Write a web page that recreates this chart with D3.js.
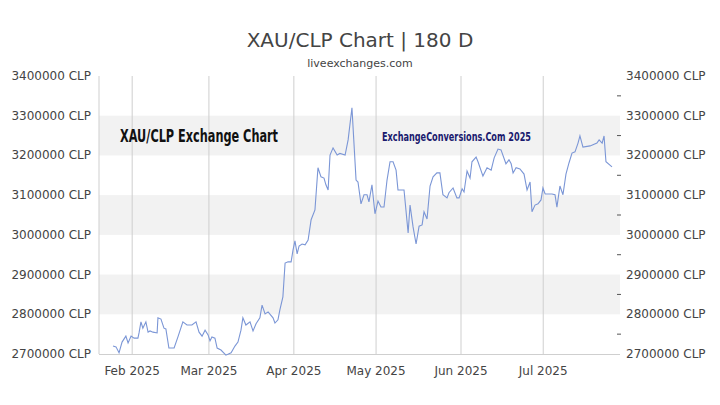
<!DOCTYPE html>
<html><head><meta charset="utf-8">
<script src="https://cdn.jsdelivr.net/npm/d3@7"></script>
<style>body{margin:0;background:#fff}text{font-family:"DejaVu Sans",sans-serif}</style>
</head><body><svg id="chart" width="720" height="405"></svg>
<script>
// days after 2025-01-25, and rate in thousands of CLP
var dayIdx = [0,1.1,2.2,3.3,4.7,5.5,6.6,7.7,9.1,9.5,10.2,10.9,12.0,12.8,13.5,14.6,16.1,16.4,17.5,18.6,19.3,20.4,22.3,23.7,25.5,27.0,28.8,30.3,31.4,32.5,33.6,34.7,35.4,36.1,37.2,38.0,39.4,41.2,43.1,44.5,45.6,46.7,47.4,48.5,50.0,51.1,52.2,53.6,54.4,55.5,56.6,58.4,59.1,60.2,60.9,62.0,62.8,63.9,65.0,65.7,66.4,67.2,67.9,69.0,70.1,71.2,72.3,73.7,74.8,75.9,77.0,77.7,78.5,79.2,80.3,81.8,82.8,84.7,85.8,87.2,88.7,89.4,90.5,91.6,92.7,93.4,94.5,95.6,96.7,97.8,98.9,100.0,101.1,102.2,103.3,104.0,106.2,107.7,108.4,109.5,110.6,111.7,112.8,113.5,114.6,115.7,116.8,118.2,119.3,120.4,121.9,122.6,124.1,125.5,126.3,127.4,128.1,129.2,130.3,131.0,132.5,133.2,135.0,136.5,138.0,139.1,140.5,141.6,143.4,144.5,145.3,146.0,147.1,148.5,150.0,151.1,152.2,152.9,154.0,155.1,156.2,156.9,157.7,159.1,160.2,161.3,162.0,163.1,164.2,165.3,166.4,167.5,168.6,169.7,170.4,171.5,174.1,176.6,177.4,178.5,179.2,179.9,182.1];
var rates = [2720,2718,2703,2730,2745,2728,2745,2740,2740,2753,2781,2765,2781,2755,2758,2755,2753,2791,2788,2765,2763,2715,2715,2743,2781,2773,2773,2781,2755,2745,2760,2748,2733,2743,2740,2715,2710,2697,2703,2720,2730,2760,2791,2773,2781,2758,2776,2791,2823,2801,2806,2791,2778,2786,2811,2844,2929,2932,2932,2962,2985,2952,2972,2977,2975,2987,3038,3063,3169,3146,3143,3126,3113,3201,3219,3201,3205,3201,3239,3320,3138,3133,3078,3101,3101,3083,3126,3053,3085,3070,3070,3138,3184,3184,3163,3113,3113,3005,3075,3020,2977,3022,3025,3058,3040,3123,3146,3156,3156,3101,3093,3106,3118,3093,3093,3116,3108,3161,3143,3184,3196,3184,3148,3169,3163,3194,3216,3214,3179,3189,3179,3156,3169,3166,3153,3113,3133,3058,3075,3078,3088,3118,3103,3103,3103,3101,3070,3123,3101,3153,3181,3206,3209,3231,3249,3221,3224,3231,3239,3231,3249,3184,3171];
var monthLabels = ["Feb 2025","Mar 2025","Apr 2025","May 2025","Jun 2025","Jul 2025"];
var yTicks = [2700000,2800000,2900000,3000000,3100000,3200000,3300000,3400000];

var start = new Date(2025,0,25);
var data = dayIdx.map(function (d, i) {
  return { date: new Date(start.getTime() + d * 864e5), v: rates[i] * 1000 };
});

var svg = d3.select("#chart");
var pLeft = 99, pRight = 620, pTop = 76, pBottom = 354;

var x = d3.scaleTime().domain([start, data[data.length - 1].date]).range([113, 612]);
var y = d3.scaleLinear().domain([2700000, 3400000]).range([pBottom, pTop]);

// alternating bands
[2800000, 3000000, 3200000].forEach(function (b) {
  svg.append("rect").attr("x", pLeft).attr("width", pRight - pLeft)
    .attr("y", y(b + 100000)).attr("height", y(b) - y(b + 100000)).attr("fill", "#f2f2f2");
});

// month gridlines
var months = monthLabels.map(function (m, i) { return new Date(2025, i + 1, 1); });
svg.selectAll(".vg").data(months).enter().append("line")
  .attr("x1", function (d) { return x(d); }).attr("x2", function (d) { return x(d); })
  .attr("y1", pTop).attr("y2", pBottom).attr("stroke", "#cfcfcf");
svg.append("line").attr("x1", pLeft).attr("x2", pLeft).attr("y1", pTop).attr("y2", pBottom).attr("stroke", "#cfcfcf");
svg.append("line").attr("x1", pLeft).attr("x2", pRight).attr("y1", pBottom + 0.5).attr("y2", pBottom + 0.5).attr("stroke", "#cfcfcf");

svg.selectAll(".ml").data(months).enter().append("text")
  .attr("x", function (d) { return x(d); }).attr("y", 375)
  .attr("text-anchor", "middle").attr("font-size", 12).attr("fill", "#444")
  .text(function (d, i) { return monthLabels[i]; });

// y labels both sides
svg.selectAll(".yl").data(yTicks).enter().append("text")
  .attr("x", 91).attr("y", function (d) { return y(d) + 4; })
  .attr("text-anchor", "end").attr("font-size", 12).attr("fill", "#444")
  .text(function (d) { return d + " CLP"; });
svg.selectAll(".yr").data(yTicks).enter().append("text")
  .attr("x", 626).attr("y", function (d) { return y(d) + 4; })
  .attr("font-size", 12).attr("fill", "#444")
  .text(function (d) { return d + " CLP"; });
svg.selectAll(".yt").data(d3.range(2750000, 3400000, 100000)).enter().append("line")
  .attr("x1", 617).attr("x2", 621)
  .attr("y1", function (d) { return y(d); }).attr("y2", function (d) { return y(d); })
  .attr("stroke", "#555");

// watermark texts
svg.append("text").attr("x", 120).attr("y", 142).attr("font-size", 17).attr("font-weight", "bold")
  .attr("textLength", 158).attr("lengthAdjust", "spacingAndGlyphs")
  .attr("fill", "#111").text("XAU/CLP Exchange Chart");
svg.append("text").attr("x", 382).attr("y", 141).attr("font-size", 12.5).attr("font-weight", "bold")
  .attr("textLength", 149).attr("lengthAdjust", "spacingAndGlyphs")
  .attr("fill", "#1a1a6e").text("ExchangeConversions.Com 2025");

// line
svg.append("path").datum(data)
  .attr("d", d3.line().x(function (d) { return x(d.date); }).y(function (d) { return y(d.v); }))
  .attr("fill", "none").attr("stroke", "#7b96d6").attr("stroke-width", 1.1);

// titles
svg.append("text").attr("x", 360).attr("y", 47).attr("text-anchor", "middle")
  .attr("font-size", 20).attr("fill", "#444").text("XAU/CLP Chart | 180 D");
svg.append("text").attr("x", 360).attr("y", 67).attr("text-anchor", "middle")
  .attr("font-size", 11).attr("fill", "#444").text("liveexchanges.com");
</script></body></html>
